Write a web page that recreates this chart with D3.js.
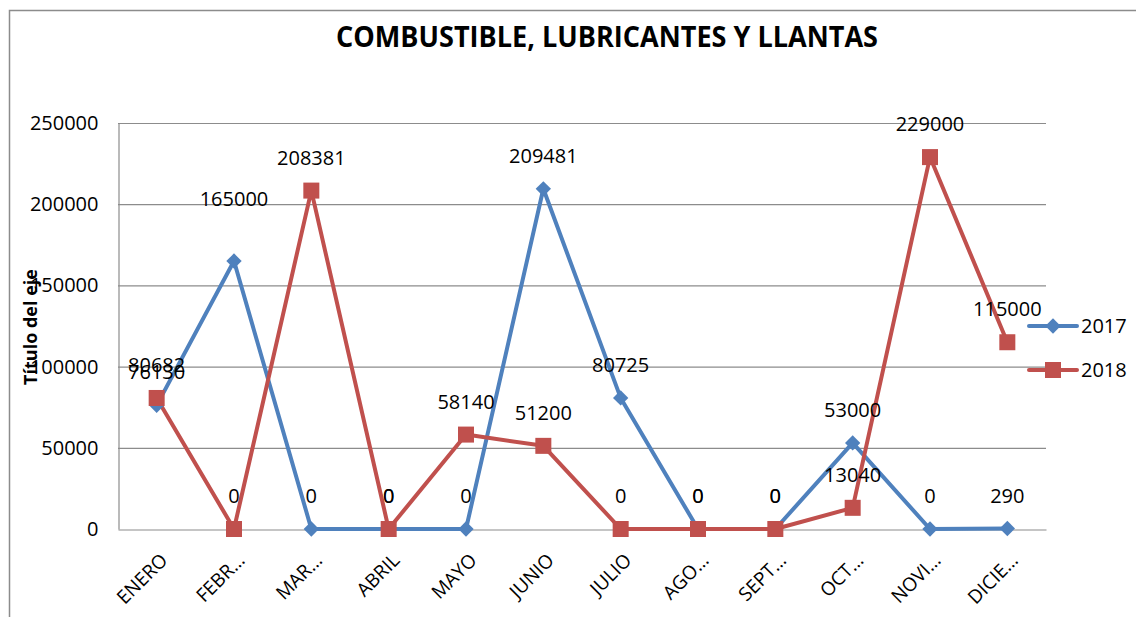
<!DOCTYPE html>
<html><head><meta charset="utf-8">
<script src="https://cdn.jsdelivr.net/npm/d3@7/dist/d3.min.js"></script>
<style>html,body{margin:0;background:#fff;overflow:hidden}svg{display:block;overflow:hidden}text{font-family:"Open Sans",Carlito,Calibri,sans-serif}</style>
</head><body>
<svg id="c" width="1136" height="617"></svg>
<script>
const categories = ["ENERO","FEBR…","MAR…","ABRIL","MAYO","JUNIO","JULIO","AGO…","SEPT…","OCT…","NOVI…","DICIE…"];
const series2017 = [76130,165000,0,0,0,209481,80725,0,0,53000,0,290];
const series2018 = [80682,0,208381,0,58140,51200,0,0,0,13040,229000,115000];
const yTicks = [0,50000,100000,150000,200000,250000];
const seriesNames = ["2017","2018"];
const title = "COMBUSTIBLE, LUBRICANTES Y LLANTAS";
const yTitle = "Título del eje";

const svg = d3.select("#c");
const L = 118, R = 1046, T = 123, B = 529;
const x = d3.scaleBand().domain(categories).range([L,R]);
const y = d3.scaleLinear().domain([0,250000]).range([B,T]);
const cx = c => x(c) + x.bandwidth()/2;

// chart border: only top and left edges are visible in the frame
svg.append("path").attr("d","M9.5,700 V10.5 H1200")
  .attr("fill","none").attr("stroke","#8c8c8c").attr("stroke-width",1.5);

// title
svg.append("text").attr("x",607).attr("y",47).attr("text-anchor","middle")
  .attr("font-size",28).attr("font-weight","bold").attr("textLength",542)
  .attr("lengthAdjust","spacingAndGlyphs").text(title);

// gridlines
svg.append("g").selectAll("line").data(yTicks.filter(d=>d>0)).join("line")
  .attr("x1",L).attr("x2",R).attr("y1",d=>y(d)+0.5).attr("y2",d=>y(d)+0.5)
  .attr("stroke","#8c8c8c").attr("stroke-width",1.2);

// y axis
const ya = svg.append("g").attr("transform",`translate(${L+0.5},0)`)
  .call(d3.axisLeft(y).tickValues(yTicks).tickSize(0).tickPadding(20).tickFormat(d3.format("d")));
ya.select(".domain").attr("stroke","#8c8c8c").attr("stroke-width",1.2);
ya.selectAll("text").attr("font-size",20).attr("fill","#000")
  .attr("font-family","'Open Sans',sans-serif");

// x axis
const xa = svg.append("g").attr("transform",`translate(0,${B+0.5})`)
  .call(d3.axisBottom(x).tickSize(0).tickPadding(0));
xa.select(".domain").attr("stroke","#8c8c8c").attr("stroke-width",1.2);
xa.selectAll("text").attr("font-size",19).attr("fill","#000")
  .attr("font-family","'Open Sans',sans-serif")
  .attr("text-anchor","end").attr("dy",0)
  .attr("transform","translate(12,32) rotate(-45)");

// y title
svg.append("text").attr("transform","translate(37,327) rotate(-90)")
  .attr("text-anchor","middle").attr("font-size",18).attr("font-weight","bold").text(yTitle);

const colors = ["#4F81BD","#C0504D"];
const data = [series2017, series2018];
const line = d3.line().x((d,i)=>cx(categories[i])).y(d=>y(d));

data.forEach((s,k)=>{
  svg.append("path").datum(s).attr("d",line).attr("fill","none")
    .attr("stroke",colors[k]).attr("stroke-width",4).attr("stroke-linejoin","round");
});
// markers
svg.append("g").selectAll("path").data(series2017).join("path")
  .attr("transform",(d,i)=>`translate(${cx(categories[i])},${y(d)})`)
  .attr("d",d3.symbol(d3.symbolDiamond2,150)).attr("fill",colors[0]);
svg.append("g").selectAll("rect").data(series2018).join("rect")
  .attr("x",(d,i)=>cx(categories[i])-8).attr("y",d=>y(d)-8)
  .attr("width",16).attr("height",16).attr("fill",colors[1]);

// data labels
const labelLift = (k,i) => (k===0 && i===1) ? 55 : 26;
data.forEach((s,k)=>{
  svg.append("g").selectAll("text").data(s).join("text")
    .attr("x",(d,i)=>cx(categories[i])).attr("y",(d,i)=>y(d)-labelLift(k,i))
    .attr("text-anchor","middle").attr("font-size",20).attr("fill","#000")
    .text(d=>d);
});

// legend
seriesNames.forEach((n,k)=>{
  const ly = 326 + k*44;
  const g = svg.append("g");
  g.append("line").attr("x1",1029).attr("x2",1077).attr("y1",ly).attr("y2",ly)
    .attr("stroke",colors[k]).attr("stroke-width",4).attr("stroke-linecap","round");
  if(k===0) g.append("path").attr("transform",`translate(1053,${ly})`)
    .attr("d",d3.symbol(d3.symbolDiamond2,150)).attr("fill",colors[0]);
  else g.append("rect").attr("x",1045).attr("y",ly-8).attr("width",16).attr("height",16).attr("fill",colors[1]);
  g.append("text").attr("x",1081).attr("y",ly+7).attr("font-size",20).text(n);
});
</script>
</body></html>
